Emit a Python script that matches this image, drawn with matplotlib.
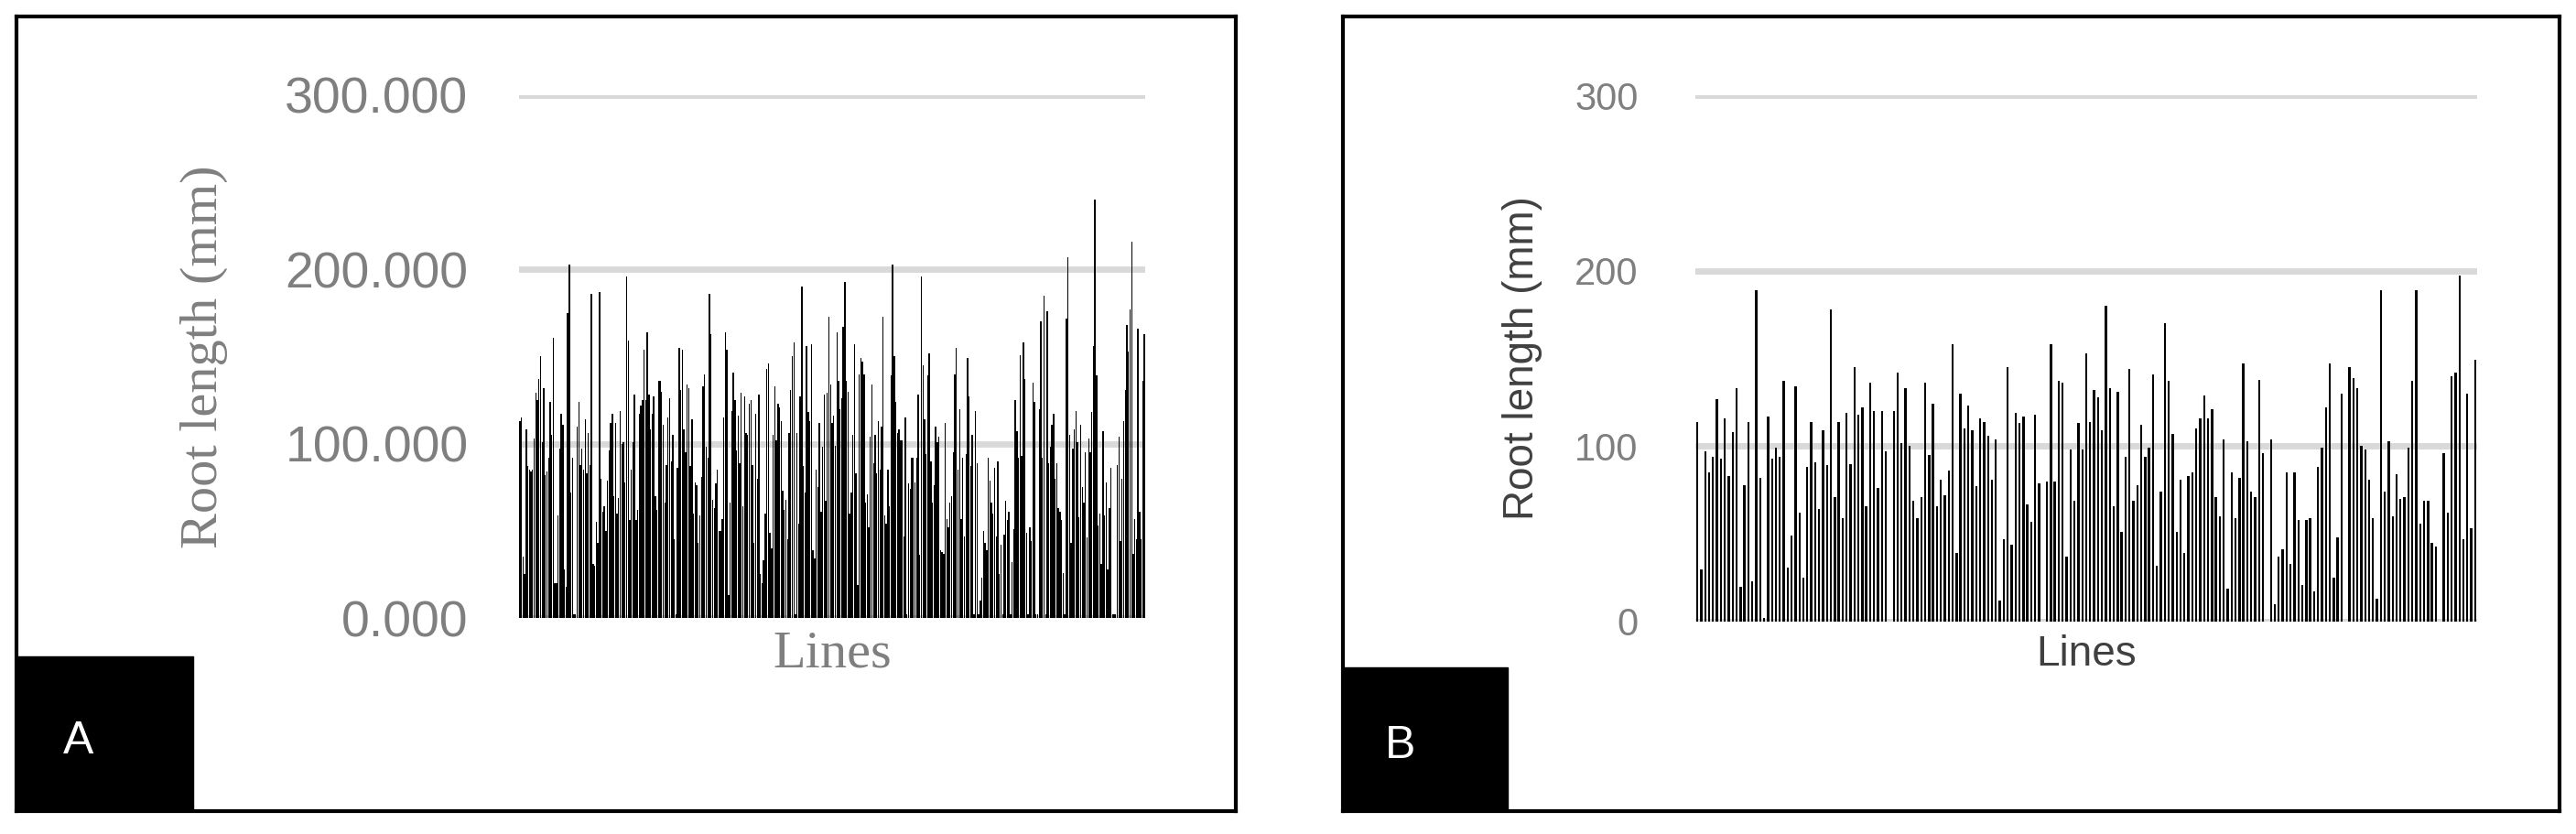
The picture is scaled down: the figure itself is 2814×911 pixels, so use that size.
import matplotlib.pyplot as plt
from matplotlib.patches import Rectangle

# Panel A root lengths (mm) left to right
lines_a = [113, 115, 35, 25, 108, 87, 85, 84, 85, 103, 129, 125, 137, 150, 101, 132, 82, 84, 92, 124,
           105, 161, 20, 20, 59, 97, 117, 111, 28, 18, 175, 203, 72, 92, 2, 2, 110, 124, 88, 97,
           85, 114, 83, 106, 88, 186, 31, 30, 55, 43, 187, 80, 61, 64, 50, 79, 96, 112, 117, 70,
           112, 60, 69, 119, 100, 101, 78, 196, 159, 56, 85, 101, 128, 56, 62, 117, 122, 125, 154, 125,
           164, 128, 108, 117, 127, 70, 62, 136, 136, 130, 111, 66, 88, 115, 126, 90, 105, 45, 2, 86,
           155, 131, 154, 108, 95, 134, 132, 87, 114, 60, 78, 76, 43, 59, 81, 133, 140, 98, 92, 186,
           163, 68, 63, 77, 85, 50, 50, 57, 115, 164, 154, 13, 66, 119, 141, 125, 96, 116, 89, 129,
           64, 127, 106, 105, 123, 125, 88, 43, 117, 80, 128, 25, 20, 33, 60, 143, 146, 49, 40, 105,
           133, 102, 123, 121, 113, 73, 62, 68, 45, 106, 131, 150, 158, 2, 106, 54, 127, 190, 87, 72,
           156, 118, 113, 157, 39, 34, 85, 75, 112, 61, 98, 128, 67, 129, 173, 134, 112, 116,
           99, 164, 136, 120, 126, 167, 193, 136, 130, 60, 72, 105, 157, 83, 19, 140, 149, 147, 140, 66,
           71, 52, 104, 134, 89, 105, 83, 113, 85, 110, 173, 59, 54, 85, 64, 139, 203, 150, 124, 106,
           108, 102, 102, 47, 115, 2, 77, 74, 92, 92, 78, 92, 128, 36, 196, 145, 114, 94, 139, 152,
           90, 66, 76, 110, 101, 104, 39, 38, 37, 112, 57, 52, 66, 70, 95, 140, 155, 85, 120, 57,
           92, 47, 94, 149, 127, 87, 105, 2, 119, 89, 2, 10, 23, 50, 43, 39, 92, 79, 66, 60,
           86, 47, 90, 25, 42, 2, 48, 67, 56, 61, 2, 32, 51, 125, 107, 92, 151, 93, 158, 137,
           49, 2, 52, 44, 135, 124, 2, 2, 120, 170, 92, 185, 2, 176, 89, 98, 111, 117, 80, 89,
           63, 61, 56, 26, 2, 172, 207, 105, 43, 97, 108, 119, 101, 58, 111, 75, 66, 95, 46, 103,
           95, 118, 156, 240, 139, 53, 60, 31, 107, 59, 78, 28, 63, 86, 2, 2, 2, 88, 104, 44,
           80, 113, 131, 168, 153, 177, 216, 37, 57, 45, 166, 61, 45, 136, 163]

# Panel B root lengths (mm); 0 = missing line
lines_b = [114, 30, 97, 85, 94, 127, 93, 116, 83, 108, 133, 20, 78, 114, 23, 189, 82, 2, 117, 93,
           99, 94, 137, 31, 49, 134, 62, 25, 88, 114, 91, 64, 109, 89, 178, 71, 114, 59, 119, 90,
           145, 118, 122, 66, 136, 120, 76, 120, 97, 0, 120, 142, 102, 133, 100, 69, 59, 71, 136, 95,
           124, 66, 81, 72, 86, 158, 39, 130, 110, 123, 109, 77, 116, 114, 106, 81, 104, 12, 47, 145,
           44, 119, 113, 117, 67, 57, 118, 79, 0, 80, 158, 80, 137, 136, 37, 98, 69, 113, 98, 153,
           114, 132, 128, 109, 180, 133, 66, 131, 51, 94, 144, 69, 78, 112, 94, 99, 141, 32, 74, 170,
           137, 107, 51, 81, 39, 83, 85, 110, 116, 129, 116, 121, 71, 60, 104, 19, 85, 59, 82, 147,
           103, 74, 71, 138, 96, 0, 104, 10, 37, 41, 85, 33, 85, 58, 21, 58, 59, 17, 88, 99,
           122, 147, 25, 48, 130, 0, 145, 139, 133, 100, 98, 81, 59, 13, 189, 74, 103, 60, 84, 70,
           71, 99, 137, 189, 56, 69, 69, 45, 43, 0, 96, 62, 140, 142, 197, 47, 130, 53, 149]

W, H = 2814, 911
fig = plt.figure(figsize=(W / 100, H / 100), dpi=100)


def px_axes(x0, y0, x1, y1, **kw):
    # pixel box (top-left origin) -> figure axes
    return fig.add_axes([x0 / W, 1 - y1 / H, (x1 - x0) / W, (y1 - y0) / H], **kw)


def panel_frame(x0, y0, x1, y1, lx1, ly0, letter):
    bg = px_axes(x0, y0, x1, y1)
    bg.set_xlim(0, 1)
    bg.set_ylim(0, 1)
    bg.set_xticks([])
    bg.set_yticks([])
    for s in bg.spines.values():
        s.set_linewidth(3)
    fx = (lx1 - x0) / (x1 - x0)
    fy = (y1 - ly0) / (y1 - y0)
    bg.add_patch(Rectangle((0, 0), fx, fy, color='black'))
    bg.text(fx * 0.35, fy * 0.45, letter, color='white', fontsize=36,
            family='Liberation Sans', ha='center', va='center')


panel_frame(18, 18, 1350, 886, 211, 717, 'A')
panel_frame(1467, 18, 2796, 886, 1647, 729, 'B')


def bar_axes(box, vals, width):
    ax = px_axes(*box)
    ax.patch.set_alpha(0)
    ax.bar(range(len(vals)), vals, width=width, color='black', zorder=3)
    ax.set_xlim(-0.5, len(vals) - 0.5)
    ax.set_ylim(0, 300)
    ax.set_yticks([0, 100, 200, 300])
    ax.grid(axis='y', color='#d9d9d9', linewidth=5, zorder=0)
    ax.set_xticks([])
    for s in ax.spines.values():
        s.set_visible(False)
    ax.tick_params(axis='y', length=0, pad=40)
    return ax


ax_a = bar_axes((567, 104, 1251, 675), lines_a, 0.8)
ax_a.set_yticklabels(['0.000', '100.000', '200.000', '300.000'])
for t in ax_a.get_yticklabels():
    t.set_fontsize(40)
    t.set_color('#7f7f7f')
    t.set_family('Liberation Sans')
ax_a.set_ylabel('Root length (mm)', fontsize=42, color='#7f7f7f',
                family='Liberation Serif', labelpad=45)
ax_a.set_xlabel('Lines', fontsize=42, color='#7f7f7f',
                family='Liberation Serif', labelpad=10)

ax_b = bar_axes((1852, 104, 2706, 679), lines_b, 0.55)
ax_b.set_yticklabels(['0', '100', '200', '300'])
for t in ax_b.get_yticklabels():
    t.set_fontsize(30)
    t.set_color('#7f7f7f')
    t.set_family('Liberation Sans')
ax_b.tick_params(axis='y', pad=45)
ax_b.set_ylabel('Root length (mm)', fontsize=33, color='#404040',
                family='Liberation Sans', labelpad=25)
ax_b.set_xlabel('Lines', fontsize=33, color='#404040',
                family='Liberation Sans', labelpad=10)

fig.savefig('out.png', dpi=100)
